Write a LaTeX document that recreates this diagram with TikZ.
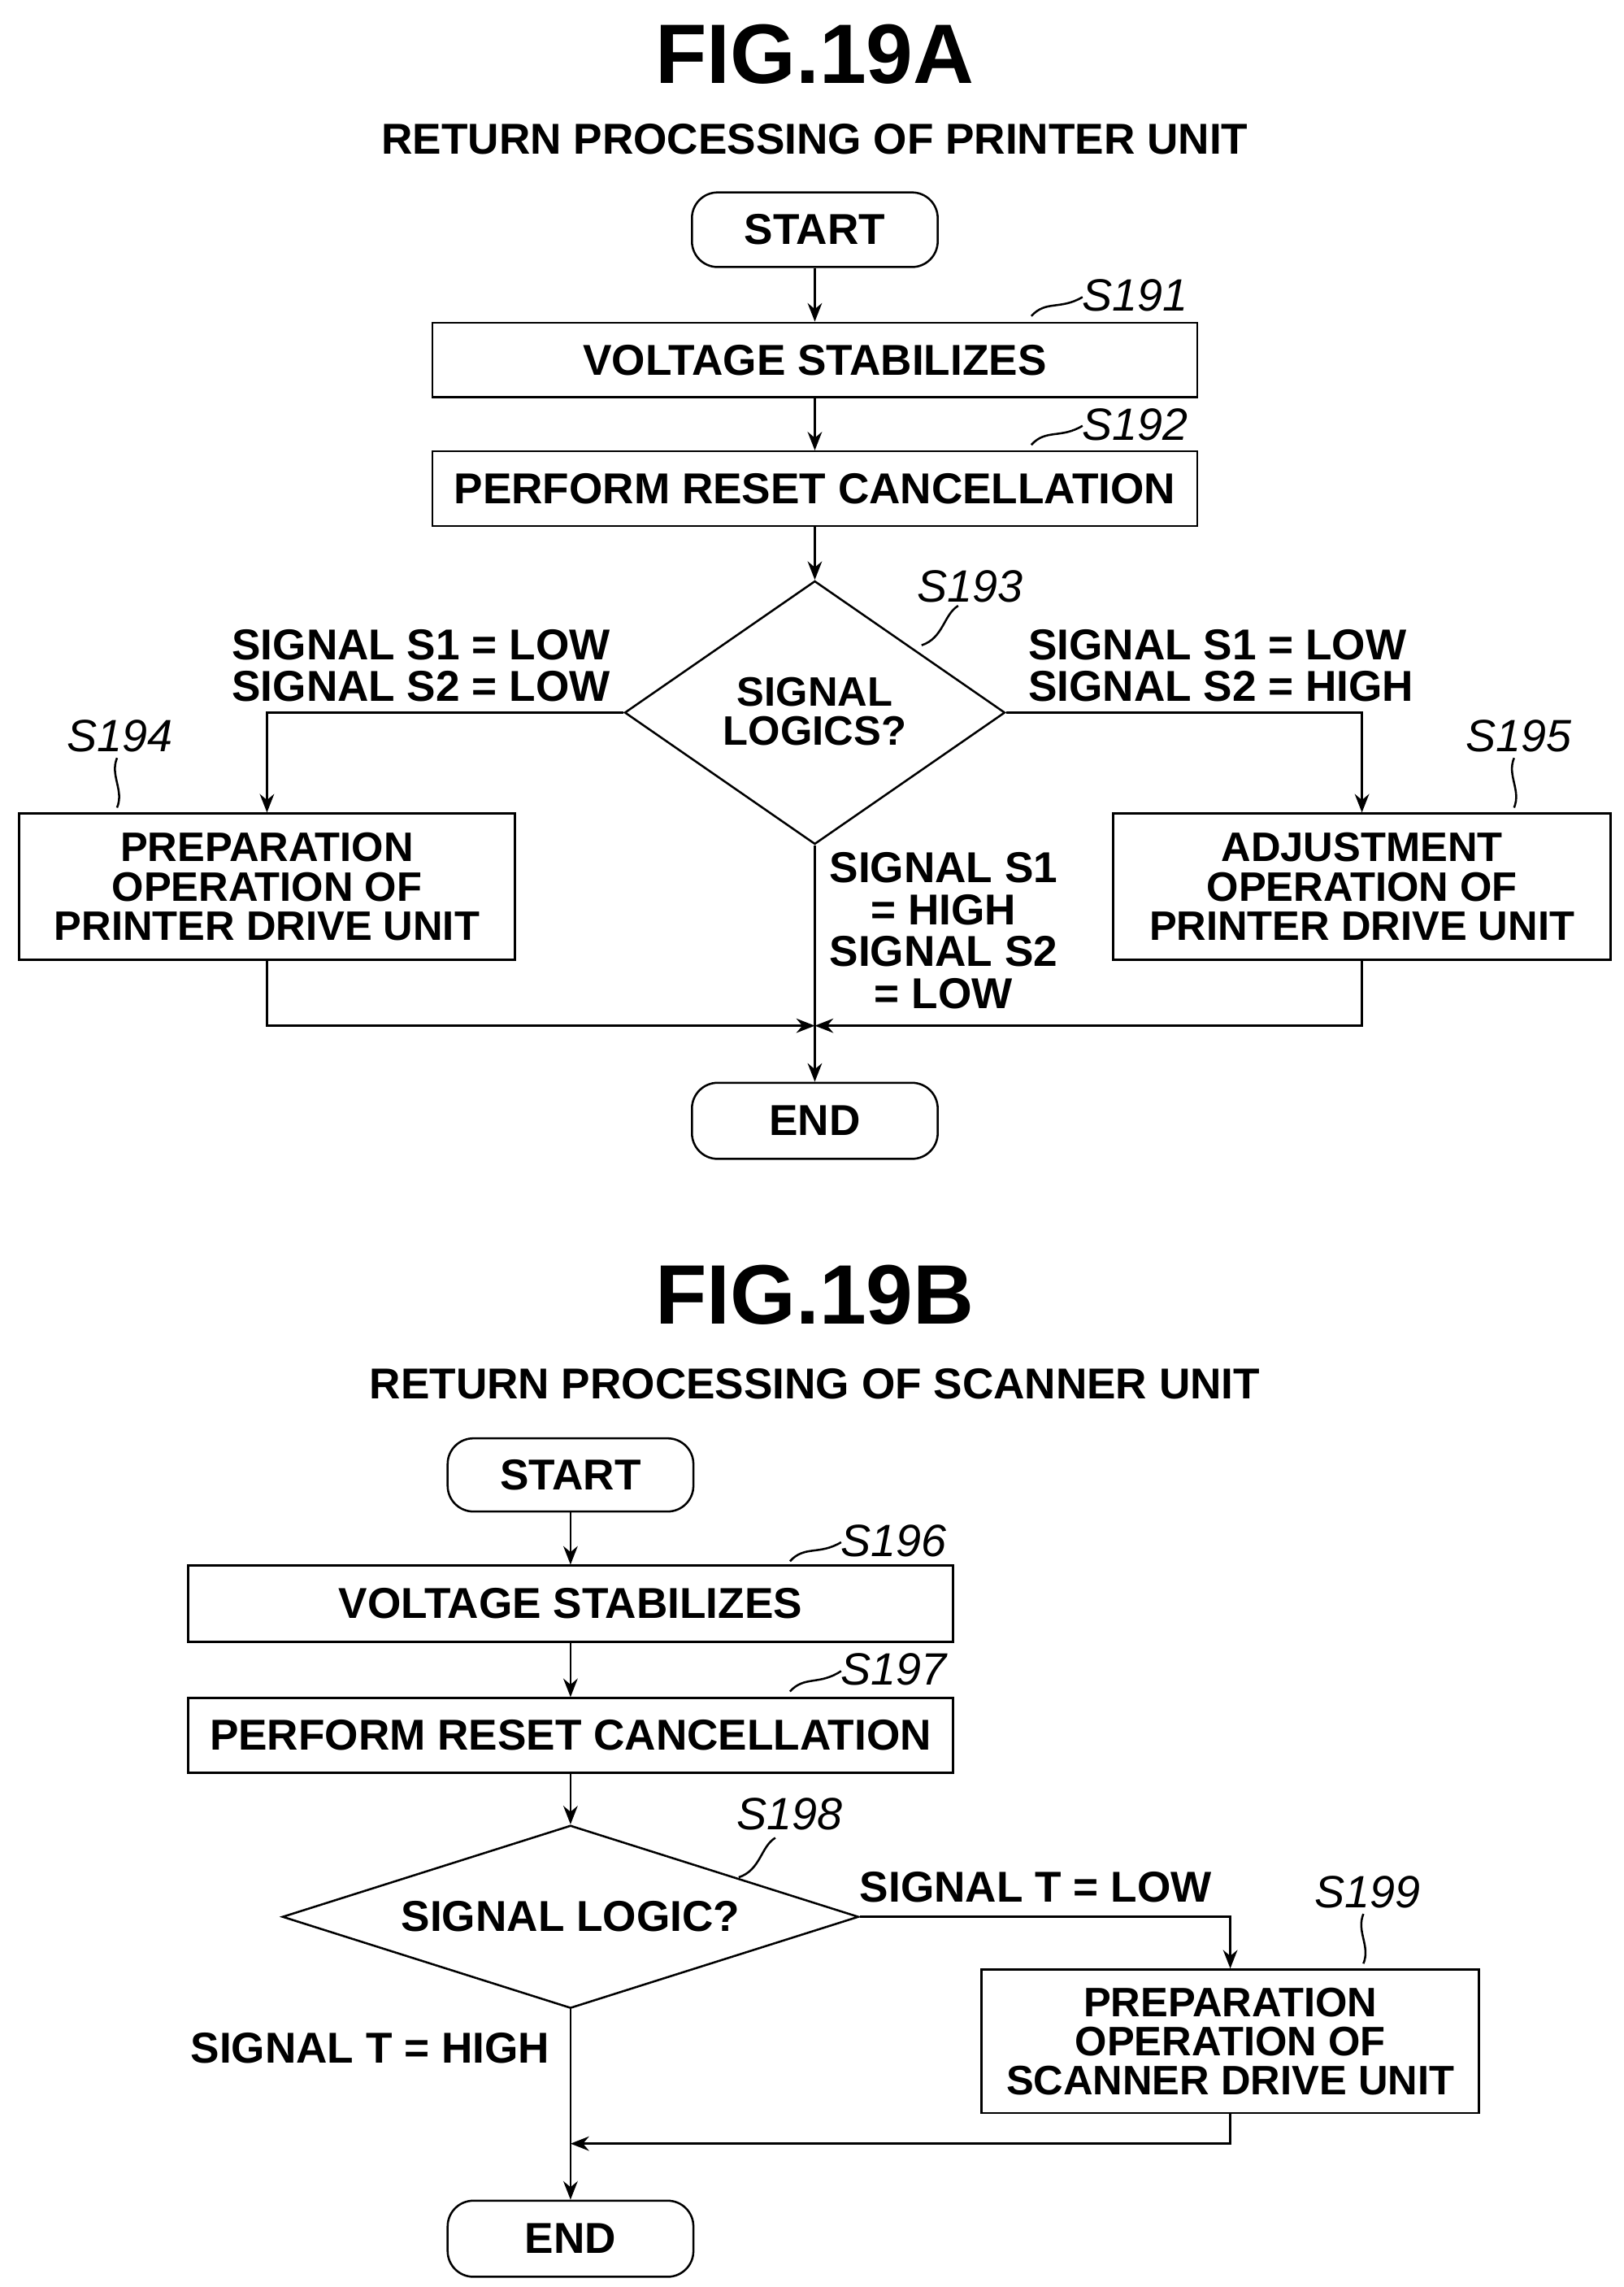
\documentclass[tikz,border=0pt]{standalone}
\usepackage{fontspec}
\setmainfont{Liberation Sans}
\usetikzlibrary{shapes.geometric,arrows.meta}
\begin{document}
\begin{tikzpicture}[x=0.025cm,y=-0.025cm,
 txt/.style={font=\bfseries\fontsize{21}{19}\selectfont,align=center},
 box/.style={draw,line width=1pt,txt,inner sep=0},
 term/.style={box,rounded corners=12.5pt},
 lab/.style={font=\itshape\fontsize{22}{24}\selectfont},
 ml/.style={font=\bfseries\fontsize{20}{19}\selectfont},
 ln/.style={line width=1pt},
 arr/.style={ln,-{Stealth[length=9pt,width=7pt]}}]
\useasboundingbox (0,0) rectangle (1110,1563);
% FIG 19A
\node[font=\bfseries\fontsize{41}{44}\selectfont] (t1) at (557,37) {FIG.19A};
\node[txt] (st1) at (557,95) {RETURN PROCESSING OF PRINTER UNIT};
\node[term,minimum width=168*0.025cm,minimum height=51*0.025cm] (s1) at (557,157) {START};
\node[box,minimum width=523*0.025cm,minimum height=51*0.025cm] (b191) at (557,246) {VOLTAGE STABILIZES};
\node[box,minimum width=523*0.025cm,minimum height=51*0.025cm] (b192) at (557,334) {PERFORM RESET CANCELLATION};
\node[draw,ln,diamond,minimum width=260*0.025cm,minimum height=180*0.025cm,inner sep=0,aspect=1.44] (d193) at (557,487) {};
\node[txt,ml] (d193t) at (557,486) {SIGNAL\\LOGICS?};
\node[box,ml,minimum width=339*0.025cm,minimum height=100*0.025cm] (b194) at (182.5,606) {PREPARATION\\OPERATION OF\\PRINTER DRIVE UNIT};
\node[box,ml,minimum width=340*0.025cm,minimum height=100*0.025cm] (b195) at (931,606) {ADJUSTMENT\\OPERATION OF\\PRINTER DRIVE UNIT};
\node[term,minimum width=168*0.025cm,minimum height=52*0.025cm] (e1) at (557,766) {END};
\node[lab] (l191) at (776,202) {S191};
\node[lab] (l192) at (776,290) {S192};
\node[lab] (l193) at (663,401) {S193};
\node[lab] (l194) at (82,503) {S194};
\node[lab] (l195) at (1038,503) {S195};
\node[txt,align=right,anchor=east,font=\bfseries\fontsize{21}{20}\selectfont] (c1) at (422,455) {SIGNAL S1 = LOW\\SIGNAL S2 = LOW};
\node[txt,align=left,anchor=west,font=\bfseries\fontsize{21}{20}\selectfont] (c2) at (698,455) {SIGNAL S1 = LOW\\SIGNAL S2 = HIGH};
\node[txt,font=\bfseries\fontsize{21}{20.5}\selectfont] (c3) at (645,636) {SIGNAL S1\\= HIGH\\SIGNAL S2\\= LOW};
\coordinate (j1) at (557,701);
\draw[arr] (s1) -- (b191);
\draw[arr] (b191) -- (b192);
\draw[arr] (b192) -- (d193);
\draw[arr] (d193.west) -| (b194.north);
\draw[arr] (d193.east) -| (b195.north);
\draw[arr] (d193.south) -- (e1.north);
\draw[arr] (b194.south) |- (j1);
\draw[arr] (b195.south) |- (j1);
\draw[ln] (705,216) .. controls (715,205) and (725,212) .. (740,203);
\draw[ln] (705,304) .. controls (715,293) and (725,300) .. (740,291);
\draw[ln] (630,441) .. controls (645,436) and (645,420) .. (655,414);
\draw[ln] (80,552) .. controls (85,540) and (75,530) .. (80,518);
\draw[ln] (1035,552) .. controls (1040,540) and (1030,530) .. (1035,518);
% FIG 19B
\node[font=\bfseries\fontsize{41}{44}\selectfont] (t2) at (557,885) {FIG.19B};
\node[txt] (st2) at (557,946) {RETURN PROCESSING OF SCANNER UNIT};
\node[term,minimum width=168*0.025cm,minimum height=50*0.025cm] (s2) at (390,1008) {START};
\node[box,minimum width=523*0.025cm,minimum height=52*0.025cm] (b196) at (390,1096) {VOLTAGE STABILIZES};
\node[box,minimum width=523*0.025cm,minimum height=51*0.025cm] (b197) at (390,1186) {PERFORM RESET CANCELLATION};
\node[draw,ln,diamond,minimum width=394*0.025cm,minimum height=125*0.025cm,inner sep=0,aspect=3.15] (d198) at (390,1310) {};
\node[txt] (d198t) at (390,1310) {SIGNAL LOGIC?};
\node[box,ml,minimum width=340*0.025cm,minimum height=98*0.025cm] (b199) at (841,1395) {PREPARATION\\OPERATION OF\\SCANNER DRIVE UNIT};
\node[term,minimum width=168*0.025cm,minimum height=52*0.025cm] (e2) at (390,1530) {END};
\node[lab] (l196) at (611,1053) {S196};
\node[lab] (l197) at (611,1141) {S197};
\node[lab] (l198) at (540,1240) {S198};
\node[lab] (l199) at (935,1293) {S199};
\node[txt] (c4) at (708,1290) {SIGNAL T = LOW};
\node[txt] (c5) at (253,1400) {SIGNAL T = HIGH};
\coordinate (j2) at (390,1465);
\draw[arr] (s2) -- (b196);
\draw[arr] (b196) -- (b197);
\draw[arr] (b197) -- (d198);
\draw[arr] (d198.east) -| (b199.north);
\draw[arr] (d198.south) -- (e2.north);
\draw[arr] (b199.south) |- (j2);
\draw[ln] (540,1067) .. controls (550,1056) and (560,1063) .. (575,1054);
\draw[ln] (540,1156) .. controls (550,1145) and (560,1152) .. (575,1142);
\draw[ln] (505,1283) .. controls (520,1278) and (520,1262) .. (530,1256);
\draw[ln] (932,1342) .. controls (937,1330) and (927,1320) .. (932,1308);
\end{tikzpicture}
\end{document}
